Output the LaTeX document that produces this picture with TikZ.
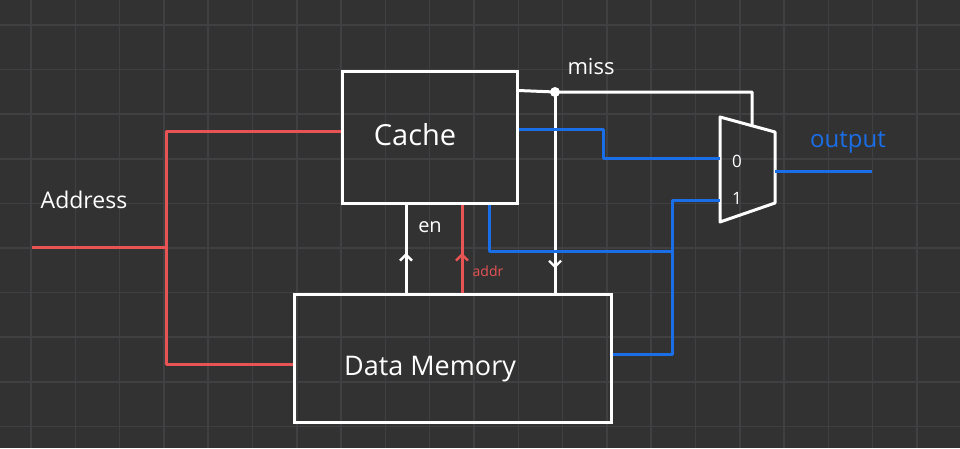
\documentclass[tikz,border=0pt]{standalone}
\usepackage{fontspec}
\setmainfont{Open Sans}
\usetikzlibrary{arrows.meta,decorations.markings,calc}
\definecolor{bgc}{RGB}{50,50,50}
\definecolor{gridc}{RGB}{64,64,66}
\definecolor{wirered}{RGB}{232,84,84}
\definecolor{wireblue}{RGB}{26,110,232}
\tikzset{
  gridline/.style={draw=gridc, line width=1.5pt},
  wire/.style={draw=white, line width=3pt, line join=round},
  rwire/.style={draw=wirered, line width=3pt, line join=round},
  bwire/.style={draw=wireblue, line width=3pt, line join=round},
  blockbox/.style={draw=white, line width=3pt, rectangle, inner sep=0pt},
  midarrow/.style={postaction={decorate}, decoration={markings, mark=at position #1 with {\arrow{Straight Barb[length=6pt,width=12pt,line width=2.4pt]}}}},
  lbl/.style={text=white, inner sep=0pt},
}
\begin{document}
\begin{tikzpicture}[x=1pt,y=-1pt]
\fill[bgc] (0,0) rectangle (960,448);
\useasboundingbox (0,0) rectangle (960,448);
\foreach \i in {0,...,21} \draw[gridline] ({31+44.3*\i},0) -- ({31+44.3*\i},448);
\foreach \j in {0,...,9} \draw[gridline] (0,{25+44.6*\j}) -- (960,{25+44.6*\j});

% blocks
\node[blockbox, minimum width=175pt, minimum height=132pt] (cache) at (429.5,137) {};
\node[blockbox, minimum width=317pt, minimum height=128pt] (dmem) at (452.5,358) {};
\node[lbl, font=\fontsize{29}{31}\selectfont] (cachelbl) at (415,135) {Cache};
\node[lbl, font=\fontsize{27}{29}\selectfont] (dmemlbl) at (430,369) {Data Memory};

% mux
\coordinate (muxTL) at (720,117);
\coordinate (muxBL) at (720,222);
\coordinate (muxTR) at (775,132);
\coordinate (muxBR) at (775,203);
\draw[wire] (muxTL) -- (muxTR) -- (muxBR) -- (muxBL) -- cycle;
\coordinate (mux0) at (720,158);
\coordinate (mux1) at (720,200);
\coordinate (muxsel) at (752,125);
\coordinate (muxout) at (775,171);
\node[lbl, font=\fontsize{17}{19}\selectfont] (m0) at (737,161) {0};
\node[lbl, font=\fontsize{17}{19}\selectfont] (m1) at (737,198) {1};

% address
\coordinate (addrin) at (32,247);
\coordinate (split) at (166,247);
\node[lbl, font=\fontsize{23}{25}\selectfont] (addresslbl) at (84,200) {Address};
\draw[rwire] (addrin) -- (split);
\draw[rwire] (split) |- ([yshift=6pt]cache.west);
\draw[rwire] (split) |- ([yshift=-6pt]dmem.west);

% en and addr
\draw[wire, midarrow=0.45] (dmem.north -| 406,0) -- (cache.south -| 406,0);
\node[lbl, font=\fontsize{20}{22}\selectfont] (enlbl) at (430,227) {en};
\draw[rwire, midarrow=0.45] (dmem.north -| 462,0) -- (cache.south -| 462,0);
\node[lbl, text=wirered, font=\fontsize{14}{16}\selectfont] (addrlbl) at (488,271) {addr};

% miss
\coordinate (missout) at ($(cache.north east)+(0,21)$);
\coordinate (missdot) at (555,92);
\draw[wire] (missout) -- (missdot) -- (muxsel |- missdot) -- (muxsel);
\fill[white] (missdot) circle (5pt);
\draw[wire, midarrow=0.88] (missdot) -- (dmem.north -| missdot);
\node[lbl, font=\fontsize{22}{24}\selectfont] (misslbl) at (591,67) {miss};

% data paths
\draw[bwire] ([yshift=8pt]cache.east) -| (603,158) -- (mux0);
\draw[bwire] (cache.south -| 489,0) |- (672,251);
\draw[bwire] ([yshift=4pt]dmem.east) -| (672,200) -- (mux1);
\coordinate (outend) at (872,171);
\draw[bwire] (muxout) -- (outend);
\node[lbl, text=wireblue, font=\fontsize{24}{26}\selectfont] (outlbl) at (848,142) {output};
\end{tikzpicture}
\end{document}
